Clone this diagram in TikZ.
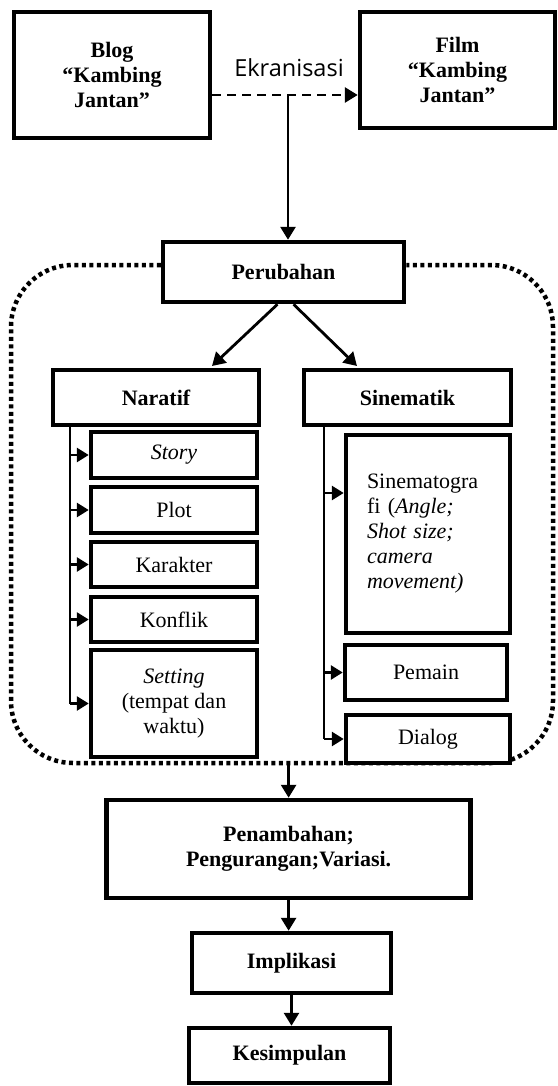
\documentclass[tikz,border=0pt]{standalone}
\usepackage{fontspec}
\setmainfont{Liberation Serif}
\newfontfamily\osans{Open Sans}
\usetikzlibrary{arrows.meta}
\tikzset{
  box/.style={draw, line width=4.5pt, fill=white, align=center, inner sep=2pt,
    font=\fontsize{22}{25}\selectfont},
  bbox/.style={box, font=\fontsize{22}{25}\selectfont\bfseries},
  conn/.style={line width=2.8pt},
  arr/.style={line width=2.8pt, -{Triangle[length=13pt,width=15pt]}},
  dotframe/.style={line width=4.5pt, dash pattern=on 4pt off 3.5pt, rounded corners=62pt},
}
\begin{document}
\begin{tikzpicture}[x=1pt,y=-1pt]
\useasboundingbox (0,0) rectangle (557,1086);
% coordinates
\coordinate (dj) at (288,95);
\coordinate (ft) at (0,265);
\coordinate (fb) at (0,763);
\coordinate (L) at (70,0);
\coordinate (R) at (324,0);
\coordinate (na) at (212,366);
\coordinate (sa) at (357,366);
% top nodes
\node[bbox, minimum width=196pt, minimum height=126pt] (Blog) at (112,75) {Blog\\“Kambing\\Jantan”};
\node[bbox, minimum width=195pt, minimum height=116pt] (Film) at (457.5,70) {Film\\“Kambing\\Jantan”};
\node[font=\osans\fontsize{23.5}{26}\selectfont, anchor=base, inner sep=0pt] (Ekr) at (289,77) {Ekranisasi};
\draw[arr, dash pattern=on 9pt off 6pt] (Blog.east |- dj) -- (Film.west |- dj);
% frame
\node[bbox, minimum width=241pt, minimum height=60pt] (Perubahan) at (283.5,272) {Perubahan};
\draw[dotframe] (Perubahan.west |- ft) -- (11,265) -- (11,763) -- (553,763) -- (553,265) -- (Perubahan.east |- ft);
\draw[arr] (dj) -- (dj |- Perubahan.north);
% level 2
\node[bbox, minimum width=206pt, minimum height=55pt] (Naratif) at (156,397.5) {Naratif};
\node[bbox, minimum width=207pt, minimum height=55pt] (Sinematik) at (407.5,397.5) {Sinematik};
\draw[arr] ([xshift=-6pt]Perubahan.south) -- (na);
\draw[arr] ([xshift=10pt]Perubahan.south) -- (sa);
% naratif children
\node[box, minimum width=166pt, minimum height=46pt] (Story) at (174,455) {\textit{Story}};
\node[box, minimum width=166pt, minimum height=46pt] (Plot) at (174,510) {Plot};
\node[box, minimum width=166pt, minimum height=45pt] (Karakter) at (174,564.5) {Karakter};
\node[box, minimum width=166pt, minimum height=45pt] (Konflik) at (174,619.5) {Konflik};
\node[box, minimum width=166pt, minimum height=107pt] (Setting) at (174,703.5) {\textit{Setting}\\(tempat dan\\waktu)};
\draw[conn] (L |- Naratif.south) -- (L |- Setting.west);
\foreach \n in {Story,Plot,Karakter,Konflik,Setting}
  \draw[arr, -{Triangle[length=12pt,width=14pt]}] (L |- \n.west) -- (\n.west);
% sinematik children
\node[box, minimum width=164pt, minimum height=198pt, text width=122pt, inner xsep=20pt, align=left] (Sinemato) at (428,534)
  {Sinematogra\\fi (\textit{Angle;}\\\textit{Shot size;}\\\textit{camera}\\\textit{movement)}};
\node[box, minimum width=162pt, minimum height=55pt] (Pemain) at (426,672.5) {Pemain};
\node[box, minimum width=164pt, minimum height=48pt] (Dialog) at (428,739) {Dialog};
\draw[conn] (R |- Sinematik.south) -- (R |- Dialog.west);
\draw[arr, -{Triangle[length=12pt,width=14pt]}] (R |- 0,493) -- (Sinemato.west |- 0,493);
\foreach \n in {Pemain,Dialog}
  \draw[arr, -{Triangle[length=12pt,width=14pt]}] (R |- \n.west) -- (\n.west);
% bottom
\node[bbox, minimum width=364pt, minimum height=98pt] (Penambahan) at (288.6,849) {Penambahan;\\Pengurangan;Variasi.};
\node[bbox, minimum width=199pt, minimum height=60pt] (Implikasi) at (291.5,963) {Implikasi};
\node[bbox, minimum width=201pt, minimum height=55pt] (Kesimpulan) at (289.5,1055.5) {Kesimpulan};
\draw[arr] (Penambahan.north |- fb) -- (Penambahan.north);
\draw[arr] (Penambahan.south) -- (Penambahan.south |- Implikasi.north);
\draw[arr] (Implikasi.south) -- (Implikasi.south |- Kesimpulan.north);
\end{tikzpicture}
\end{document}
